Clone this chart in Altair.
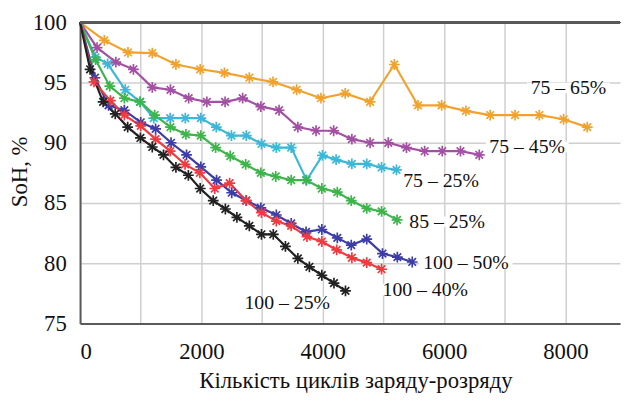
import altair as alt
import pandas as pd

# ---- data ----
series_names = ["75–65%", "75–45%", "75–25%", "85–25%", "100–50%", "100–40%", "100–25%"]
series_colors = ["#F2A22C", "#A34FA3", "#3BB7D7", "#3DB54A", "#3D3DA8", "#EE3A40", "#222222"]

orange_x = [0, 400, 790, 1190, 1580, 1980, 2380, 2790, 3180, 3570, 3970, 4370, 4780, 5180,
            5570, 5960, 6360, 6760, 7170, 7570, 7970, 8360]
orange_y = [100, 98.5, 97.5, 97.45, 96.5, 96.1, 95.8, 95.4, 95.05, 94.4, 93.7, 94.1, 93.4, 96.5,
            93.1, 93.1, 92.65, 92.3, 92.3, 92.3, 91.95, 91.3]

purple_x = [0, 280, 590, 880, 1190, 1490, 1790, 2090, 2390, 2680, 2980, 3280, 3590, 3890,
            4180, 4480, 4780, 5080, 5380, 5680, 5970, 6270, 6580]
purple_y = [100, 97.9, 96.7, 96.1, 94.6, 94.4, 93.7, 93.4, 93.4, 93.7, 93.0, 92.7, 91.3, 91.0,
            91.0, 90.3, 90.0, 90.0, 89.6, 89.3, 89.3, 89.3, 89.0]

cyan_x = [0, 255, 455, 745, 990, 1215, 1485, 1735, 1990, 2245, 2495, 2740, 2990, 3235, 3480,
          3735, 3995, 4220, 4480, 4725, 4970, 5215]
cyan_y = [100, 97.1, 96.55, 94.4, 93.4, 92.05, 92.05, 92.05, 92.05, 91.3, 90.6, 90.6, 89.9,
          89.6, 89.6, 86.9, 88.95, 88.6, 88.25, 88.25, 87.95, 87.75]

green_x = [0, 255, 490, 730, 990, 1230, 1490, 1745, 1990, 2235, 2475, 2730, 2980, 3225, 3480,
           3725, 3985, 4240, 4470, 4725, 4970, 5225]
green_y = [100, 96.9, 94.7, 93.7, 93.4, 92.3, 91.3, 90.7, 90.6, 89.6, 88.9, 88.2, 87.5, 87.2,
           86.9, 86.9, 86.2, 85.9, 85.2, 84.55, 84.3, 83.6]

blue_x = [0, 245, 470, 730, 1000, 1245, 1500, 1755, 1990, 2250, 2500, 2740, 2980, 3235, 3480,
          3725, 3985, 4240, 4470, 4725, 4985, 5230, 5475]
blue_y = [100, 95.4, 93.1, 92.7, 91.7, 91.15, 90.0, 89.0, 88.0, 86.9, 85.85, 85.2, 84.6, 84.0,
          83.3, 82.6, 82.8, 82.1, 81.5, 82.0, 80.8, 80.5, 80.1]

red_x = [0, 230, 500, 730, 1000, 1245, 1485, 1730, 1975, 2220, 2465, 2735, 2990, 3235, 3480,
         3740, 3985, 4230, 4480, 4725, 4970]
red_y = [100, 95.05, 93.5, 92.3, 91.4, 90.3, 89.3, 88.2, 87.5, 86.2, 86.65, 85.2, 84.2, 83.5,
         83.1, 82.2, 81.8, 81.1, 80.45, 80.05, 79.5]

black_x = [0, 165, 380, 580, 785, 995, 1190, 1375, 1580, 1785, 1980, 2195, 2395, 2585, 2790,
           2990, 3185, 3385, 3590, 3780, 3985, 4185, 4375]
black_y = [100, 96.1, 93.4, 92.4, 91.3, 90.4, 89.65, 89.0, 87.95, 87.3, 86.2, 85.2, 84.5, 83.8,
           83.1, 82.4, 82.4, 81.4, 80.4, 79.7, 79.0, 78.35, 77.7]

label_text = ["75 – 65%", "75 – 45%", "75 – 25%", "85 – 25%", "100 – 50%", "100 – 40%", "100 – 25%"]
label_x = [8050, 7370, 5950, 6050, 6360, 5690, 3415]
label_y = [94.55, 89.65, 86.85, 83.45, 80.0, 77.8, 76.7]

x_ticks = [0, 1000, 2000, 3000, 4000, 5000, 6000, 7000, 8000]
y_ticks = [75, 80, 85, 90, 95, 100]

# ---- build table ----
all_x = [orange_x, purple_x, cyan_x, green_x, blue_x, red_x, black_x]
all_y = [orange_y, purple_y, cyan_y, green_y, blue_y, red_y, black_y]
rows = []
for name, xs, ys in zip(series_names, all_x, all_y):
    for i, (xv, yv) in enumerate(zip(xs, ys)):
        rows.append({"series": name, "cycles": xv, "soh": yv, "idx": i})
df = pd.DataFrame(rows)
labels_df = pd.DataFrame({"text": label_text, "cycles": label_x, "soh": label_y})

FONT = "Liberation Serif"
ASTERISK = "M-1,0L1,0M0,-1L0,1M-0.7,-0.7L0.7,0.7M-0.7,0.7L0.7,-0.7"
BOX = "M-1,-0.125L1,-0.125L1,0.125L-1,0.125Z"

xscale = alt.Scale(domain=[0, 8900], nice=False, zero=False)
yscale = alt.Scale(domain=[75, 100], nice=False, zero=False)
cscale = alt.Scale(domain=series_names, range=series_colors)

xaxis = alt.Axis(values=x_ticks, format="d",
                 labelExpr="datum.value % 2000 == 0 ? datum.label : ''",
                 title="Кількість циклів заряду-розряду",
                 titleX=279, titleY=58, titleBaseline="middle", titleAlign="center")
yaxis = alt.Axis(values=y_ticks, format="d", title="SoH, %",
                 titleAngle=270, titleX=-61, titleY=151,
                 titleAlign="center", titleBaseline="middle")

base = alt.Chart(df)

lines = base.mark_line(strokeWidth=2.2).encode(
    x=alt.X("cycles:Q", scale=xscale, axis=xaxis),
    y=alt.Y("soh:Q", scale=yscale, axis=yaxis),
    color=alt.Color("series:N", scale=cscale, legend=None),
    order="idx:Q",
)

points = base.transform_filter("datum.cycles > 0").mark_point(
    shape=ASTERISK, filled=False, size=120, strokeWidth=1.7, opacity=1
).encode(
    x="cycles:Q",
    y="soh:Q",
    color=alt.Color("series:N", scale=cscale, legend=None),
)

top_rule = alt.Chart(df).mark_rule(color="#5a5a5a", strokeWidth=2).encode(y=alt.datum(100))

# white boxes behind the curve labels (they hide the grid in the reference)
label_boxes = alt.Chart(labels_df).transform_calculate(
    boxsize="pow(length(datum.text) * 10.5, 2)"
).mark_point(shape=BOX, filled=True, color="white", opacity=1, strokeWidth=0).encode(
    x="cycles:Q", y="soh:Q", size=alt.Size("boxsize:Q", scale=None, legend=None)
)

labels = alt.Chart(labels_df).mark_text(font=FONT, fontSize=20, color="#111111").encode(
    x="cycles:Q", y="soh:Q", text="text:N"
)

chart = alt.layer(label_boxes, lines, points, top_rule, labels).properties(
    width=547, height=305,
    autosize=alt.AutoSizeParams(type="none"),
    padding={"left": 73, "top": 12, "right": 2, "bottom": 70},
).configure_view(stroke=None).configure_axis(
    labelFont=FONT, titleFont=FONT, labelFontSize=23, titleFontSize=23,
    labelColor="#111111", titleColor="#111111", titleFontWeight="normal",
    gridColor="#cfcfcf", gridWidth=1.5, domainColor="#5a5a5a", domainWidth=2,
    ticks=False, tickSize=0,
).configure_axisX(labelPadding=18, labelBaseline="top").configure_axisY(labelPadding=14)

chart.save("out.html", embed_options={"renderer": "svg", "actions": False})
